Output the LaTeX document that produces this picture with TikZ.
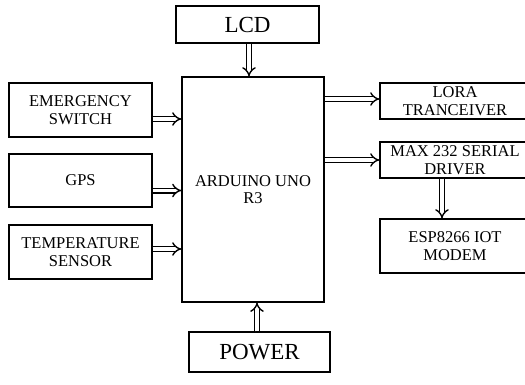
\documentclass[tikz,border=0pt]{standalone}
\usepackage{fontspec}
\setmainfont{Liberation Serif}
\usetikzlibrary{arrows.meta}
\begin{document}
\begin{tikzpicture}[x=1pt,y=-1pt,
  blk/.style={draw, line width=1.3pt, inner sep=0pt, align=center,
    font=\fontsize{16.5}{17.5}\selectfont},
  big/.style={font=\fontsize{23}{26}\selectfont},
  dar/.style={double, double distance=3.2pt, line width=1.4pt, -{Implies}}]
\useasboundingbox (0,0) rectangle (525,384);
\clip (0,0) rectangle (525,384);
\node[blk, big, minimum width=143pt, minimum height=37pt] (lcd) at (247.5,24.5) {LCD};
\node[blk, minimum width=142pt, minimum height=225pt] (ard) at (253,189.5) {ARDUINO UNO\\R3};
\node[blk, minimum width=143pt, minimum height=54pt] (emg) at (80.5,110) {EMERGENCY\\SWITCH};
\node[blk, minimum width=143pt, minimum height=53pt] (gps) at (80.5,180.5) {GPS};
\node[blk, minimum width=143pt, minimum height=54pt] (tmp) at (80.5,252) {TEMPERATURE\\SENSOR};
\node[blk, big, minimum width=141pt, minimum height=40pt] (pow) at (259.5,352) {POWER};
\node[blk, minimum width=150pt, minimum height=36pt] (lora) at (455,101) {LORA\\TRANCEIVER};
\node[blk, minimum width=150pt, minimum height=36pt] (max) at (455,160) {MAX 232 SERIAL\\DRIVER};
\node[blk, minimum width=150pt, minimum height=54pt] (esp) at (455,246) {ESP8266 IOT\\MODEM};
\draw[dar] ([xshift=1.5pt]lcd.south) -- ([xshift=1.5pt]lcd.south |- ard.north);
\draw[dar] ([xshift=-2.5pt]pow.north) -- ([xshift=-2.5pt]pow.north |- ard.south);
\draw[dar] ([yshift=-9pt]emg.east) -- ([yshift=-9pt]emg.east -| ard.west);
\draw[dar] ([yshift=-10pt]gps.east) -- ([yshift=-10pt]gps.east -| ard.west);
\draw[dar] ([yshift=3pt]tmp.east) -- ([yshift=3pt]tmp.east -| ard.west);
\draw[dar] (lora.west -| ard.east) ++(0,-2) coordinate (l1) -- (l1 -| lora.west);
\draw[dar] (max.west -| ard.east) -- (max.west);
\draw[dar] ([xshift=-13pt]max.south) -- ([xshift=-13pt]max.south |- esp.north);
\end{tikzpicture}
\end{document}
